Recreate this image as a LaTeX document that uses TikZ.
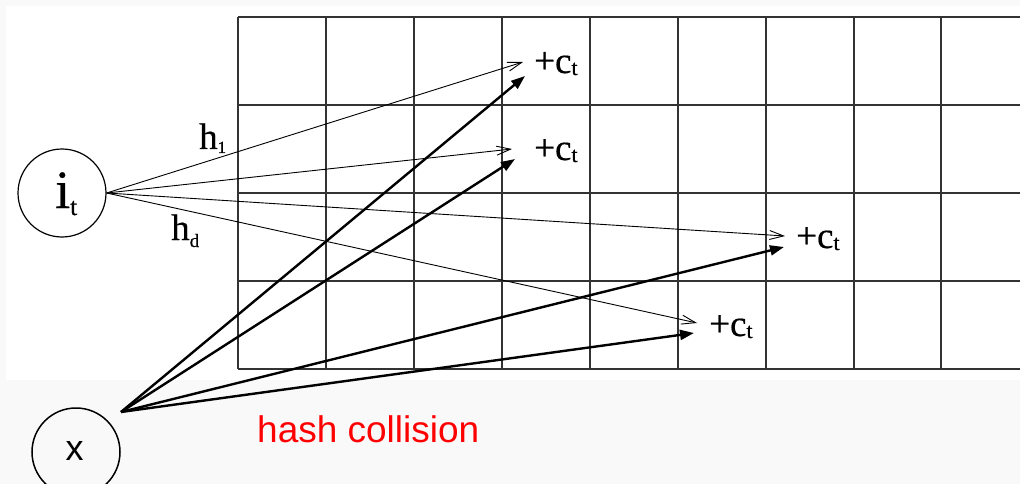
\documentclass[tikz,border=0pt]{standalone}
\usepackage{fontspec}
\setmainfont[FakeBold=0.5]{Liberation Serif}
\newfontfamily\sansf{Liberation Sans}
\usetikzlibrary{arrows.meta}
\newcommand{\lblsize}[1]{\fontsize{#1}{#1}\selectfont}
\begin{document}
\begin{tikzpicture}[x=1pt,y=-1pt,
  gridline/.style={line width=1.4pt,draw=black!80},
  thinarrow/.style={line width=0.9pt,-{Straight Barb[length=14pt,width=9pt]}},
  thickarrow/.style={line width=2.4pt,-{Triangle[length=14pt,width=10pt]}},
  lbl/.style={inner sep=0pt,anchor=base west},
  ring/.style={circle,draw,inner sep=0pt,minimum size=88pt},
]
\useasboundingbox (0,0) rectangle (1020,484);
\fill[black!2.5] (0,0) rectangle (1020,484);
\fill[white] (6,6) rectangle (1020,380);
% grid
\foreach \yy in {17,105,193,281,369} \draw[gridline] (238,\yy) -- (1020,\yy);
\foreach \xx in {238,326,414,502,590,678,766,854,941} \draw[gridline] (\xx,17) -- (\xx,369);
% nodes
\node[ring,line width=1.2pt] (i) at (62,193) {};
\node[lbl] (itext) at (55,208) {\lblsize{54}i\raisebox{-7pt}{\lblsize{25}t}};
\node[ring,line width=1.5pt] (x) at (76,452) {};
\node[lbl] (xtext) at (65.5,460) {\sansf\lblsize{36}x};
\coordinate (xo) at (121,412);
% labels
\node[lbl] (h1) at (199,149) {\lblsize{37}h\raisebox{-4pt}{\lblsize{17}1}};
\node[lbl] (hd) at (171,240) {\lblsize{37}h\raisebox{-7pt}{\lblsize{19}d}};
\node[lbl] (c1) at (534,73) {\lblsize{37}+c\raisebox{-2pt}{\lblsize{22}t}};
\node[lbl] (c2) at (534,160) {\lblsize{37}+c\raisebox{-2pt}{\lblsize{22}t}};
\node[lbl] (c3) at (796,248) {\lblsize{37}+c\raisebox{-2pt}{\lblsize{22}t}};
\node[lbl] (c4) at (709,336) {\lblsize{37}+c\raisebox{-2pt}{\lblsize{22}t}};
\node[lbl,text=red] (hc) at (257,442) {\sansf\lblsize{37}hash collision};
% arrow ends
\coordinate (a1) at (523,62);
\coordinate (a2) at (512,149);
\coordinate (a3) at (785,236);
\coordinate (a4) at (697,323);
\coordinate (b1) at (525,76);
\coordinate (b2) at (515,159);
\coordinate (b3) at (784,247);
\coordinate (b4) at (694,333);
\foreach \e in {a1,a2,a3,a4} \draw[thinarrow] (i.east) -- (\e);
\foreach \e in {b1,b2,b3,b4} \draw[thickarrow] (xo) -- (\e);
\end{tikzpicture}
\end{document}
